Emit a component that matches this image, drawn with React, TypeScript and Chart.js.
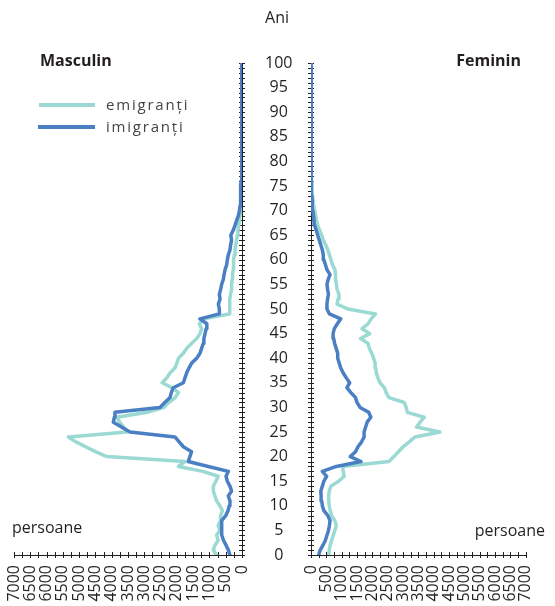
import React, { useEffect, useRef } from "react";
import { Chart, registerables } from "chart.js";

Chart.register(...registerables);

// Ages 0..100 (categories on the vertical axis)
const AGES: number[] = Array.from({ length: 101 }, (_, i) => i);

// Masculin (left panel)
const MALE_EMIGRANTI: number[] = [
  780, 880, 830, 730, 780, 680, 730, 660, 660, 600,
  680, 780, 830, 880, 880, 800, 730, 1200, 1950, 1750,
  4150, 4500, 4800, 5100, 5330, 3540, 3640, 3750, 3850, 2900,
  2400, 2250, 2050, 1950, 2150, 2450, 2310, 2210, 2060, 2000,
  1950, 1800, 1700, 1550, 1390, 1290, 1240, 1310, 1170, 390,
  370, 390, 370, 350, 320, 320, 300, 290, 270, 270,
  250, 235, 215, 195, 165, 145, 125, 100, 80, 60,
  50, 40, 35, 30, 25, 22, 18, 15, 12, 10,
  8, 7, 6, 5, 5, 4, 4, 3, 3, 2,
  2, 2, 1, 1, 1, 1, 1, 0, 0, 0, 0,
];
const MALE_IMIGRANTI: number[] = [
  370, 420, 490, 570, 620, 620, 630, 620, 500, 430,
  390, 370, 420, 320, 370, 450, 490, 420, 1035, 1650,
  1600, 1550, 1800, 1930, 2060, 3440, 3700, 3950, 3920, 3900,
  2520, 2370, 2210, 2170, 2110, 1800, 1750, 1700, 1630, 1545,
  1390, 1290, 1240, 1190, 1170, 1135, 1100, 1080, 1290, 700,
  695, 726, 675, 695, 655, 625, 575, 550, 520, 470,
  450, 420, 370, 350, 320, 345, 270, 215, 165, 110,
  80, 60, 50, 45, 40, 35, 30, 25, 22, 20,
  18, 15, 13, 12, 10, 9, 8, 7, 6, 5,
  5, 4, 4, 3, 3, 2, 2, 2, 1, 1, 1,
];

// Feminin (right panel)
const FEMALE_EMIGRANTI: number[] = [
  575, 595, 625, 675, 725, 775, 825, 775, 675, 625,
  595, 575, 575, 595, 650, 900, 1080, 1050, 1030, 2540,
  2700, 2850, 3000, 3200, 3390, 4200, 3440, 3560, 3690, 3140,
  3100, 3040, 2540, 2450, 2390, 2250, 2180, 2130, 2110, 2090,
  2040, 1980, 1900, 1860, 1615, 1914, 1665, 1860, 1960, 2100,
  1200, 850, 880, 910, 850, 830, 800, 800, 780, 700,
  650, 600, 550, 480, 400, 350, 280, 220, 180, 150,
  120, 90, 70, 55, 45, 38, 32, 26, 22, 18,
  15, 12, 10, 8, 7, 6, 5, 4, 4, 3,
  3, 2, 2, 2, 1, 1, 1, 1, 0, 0, 0,
];
const FEMALE_IMIGRANTI: number[] = [
  250, 300, 390, 470, 520, 570, 600, 620, 550, 420,
  370, 350, 330, 320, 370, 420, 510, 370, 825, 1630,
  1280, 1450, 1530, 1650, 1730, 1730, 1780, 1830, 1950, 1880,
  1600, 1500, 1450, 1300, 1170, 1260, 1150, 1050, 970, 920,
  870, 870, 820, 770, 740, 720, 760, 860, 970, 600,
  520, 520, 540, 570, 540, 520, 560, 620, 520, 470,
  420, 400, 370, 320, 270, 220, 170, 120, 100, 80,
  60, 45, 35, 30, 25, 20, 17, 14, 12, 10,
  9, 8, 7, 6, 5, 5, 4, 4, 3, 3,
  2, 2, 2, 1, 1, 1, 1, 1, 0, 0, 0,
];

const X_MAX = 7000;
const X_STEP = 500;
const AGE_LABEL_STEP = 5;

const LABEL_EMIG = "emigranți";
const LABEL_IMIG = "imigranți";

const COLOR_EMIG = "#9bd9d3";
const COLOR_IMIG = "#4a7fc4";
const INK = "#231f20";
const FONT = "'Open Sans', 'Noto Sans', sans-serif";

const W = 555;
const H = 606;

const tickCross = {
  id: "tickCross",
  beforeDatasetsDraw(chart: any, _args: any, opts: any) {
    const { ctx, chartArea } = chart;
    const xs = chart.scales.x;
    const ys = chart.scales.y;
    const axisX = opts.side === "left" ? chartArea.right : chartArea.left;
    const bottom = chartArea.bottom;
    ctx.save();
    ctx.strokeStyle = INK;
    ctx.lineWidth = 1;
    ctx.beginPath();
    for (const a of AGES) {
      const py = Math.round(ys.getPixelForValue(a)) + 0.5;
      ctx.moveTo(axisX - 3, py);
      ctx.lineTo(axisX + 3, py);
    }
    for (let v = 0; v <= X_MAX; v += X_STEP / 2) {
      const px = Math.round(xs.getPixelForValue(v)) + 0.5;
      ctx.moveTo(px, bottom - 3);
      ctx.lineTo(px, bottom + 3);
    }
    ctx.stroke();
    ctx.restore();
  },
};

function makeDatasets(emig: number[], imig: number[]) {
  return [
    {
      label: LABEL_EMIG,
      data: AGES.map((a, i) => ({ x: emig[i], y: a })),
      borderColor: COLOR_EMIG,
      backgroundColor: COLOR_EMIG,
      borderWidth: 3.5,
      pointRadius: 0,
      tension: 0,
      borderJoinStyle: "round" as const,
      borderCapStyle: "round" as const,
      order: 2,
    },
    {
      label: LABEL_IMIG,
      data: AGES.map((a, i) => ({ x: imig[i], y: a })),
      borderColor: COLOR_IMIG,
      backgroundColor: COLOR_IMIG,
      borderWidth: 3.5,
      pointRadius: 0,
      tension: 0,
      borderJoinStyle: "round" as const,
      borderCapStyle: "round" as const,
      order: 1,
    },
  ];
}

function xAxis(reverse: boolean) {
  return {
    type: "linear" as const,
    min: 0,
    max: X_MAX,
    reverse,
    grid: { display: false, drawTicks: false },
    border: { display: true, color: INK, width: 1 },
    ticks: {
      stepSize: X_STEP,
      autoSkip: false,
      minRotation: 90,
      maxRotation: 90,
      padding: 10,
      color: INK,
      font: { family: FONT, size: 16 },
      callback: (v: any) => String(v),
    },
    afterFit: (s: any) => {
      s.height = 51;
    },
  };
}

export default function App() {
  const leftRef = useRef<HTMLCanvasElement | null>(null);
  const rightRef = useRef<HTMLCanvasElement | null>(null);

  useEffect(() => {
    Chart.defaults.font.family = FONT;
    const left = new Chart(leftRef.current as HTMLCanvasElement, {
      type: "line",
      data: { datasets: makeDatasets(MALE_EMIGRANTI, MALE_IMIGRANTI) as any },
      options: {
        animation: false,
        responsive: false,
        indexAxis: "y",
        layout: { padding: { left: 14, top: 63, right: W - 242 - 60, bottom: 0 } },
        plugins: { legend: { display: false }, tooltip: { enabled: false }, tickCross: { side: "left" } } as any,
        scales: {
          x: xAxis(true),
          y: {
            type: "linear",
            position: "right",
            min: 0,
            max: 100,
            grid: { display: false, drawTicks: false },
            border: { display: true, color: INK, width: 1 },
            ticks: {
              stepSize: 1,
              maxTicksLimit: 101,
              autoSkip: false,
              crossAlign: "center",
              padding: 23,
              color: INK,
              font: { family: FONT, size: 16 },
              callback: (v: any) => (Number(v) % AGE_LABEL_STEP === 0 ? String(v) : ""),
            },
            afterFit: (s: any) => {
              s.width = 60;
            },
          } as any,
        },
      },
      plugins: [tickCross],
    });

    const right = new Chart(rightRef.current as HTMLCanvasElement, {
      type: "line",
      data: { datasets: makeDatasets(FEMALE_EMIGRANTI, FEMALE_IMIGRANTI) as any },
      options: {
        animation: false,
        responsive: false,
        indexAxis: "y",
        layout: { padding: { left: 311, top: 63, right: 10, bottom: 0 } },
        plugins: { legend: { display: false }, tooltip: { enabled: false }, tickCross: { side: "right" } } as any,
        scales: {
          x: xAxis(false),
          y: {
            type: "linear",
            position: "left",
            min: 0,
            max: 100,
            grid: { display: false, drawTicks: false },
            border: { display: true, color: INK, width: 1 },
            ticks: { display: false, stepSize: 1, maxTicksLimit: 101 },
            afterFit: (s: any) => {
              s.width = 0;
            },
          } as any,
        },
      },
      plugins: [tickCross],
    });

    return () => {
      left.destroy();
      right.destroy();
    };
  }, []);

  const txt: React.CSSProperties = {
    position: "absolute",
    fontFamily: FONT,
    fontSize: 16,
    lineHeight: "20px",
    color: INK,
    whiteSpace: "nowrap",
  };
  const legendTxt: React.CSSProperties = {
    ...txt,
    fontSize: 15,
    letterSpacing: "1.8px",
    color: "#444",
  };

  return (
    <div style={{ position: "absolute", left: 0, top: 0, width: W, height: H, background: "#fff" }}>
      <canvas ref={leftRef} width={W} height={H} style={{ position: "absolute", left: 0, top: 0, width: W, height: H }} />
      <canvas ref={rightRef} width={W} height={H} style={{ position: "absolute", left: 0, top: 0, width: W, height: H }} />
      <div style={{ ...txt, left: 227, top: 7, width: 100, textAlign: "center" }}>Ani</div>
      <div style={{ ...txt, left: 40, top: 50, fontWeight: 700 }}>Masculin</div>
      <div style={{ ...txt, left: 421, top: 50, width: 100, textAlign: "right", fontWeight: 700 }}>Feminin</div>
      <div style={{ position: "absolute", left: 39, top: 103, width: 56, height: 4, background: COLOR_EMIG }} />
      <div style={{ position: "absolute", left: 38, top: 125, width: 57, height: 4, background: COLOR_IMIG }} />
      <div style={{ ...legendTxt, left: 106, top: 94 }}>{LABEL_EMIG}</div>
      <div style={{ ...legendTxt, left: 106, top: 116 }}>{LABEL_IMIG}</div>
      <div style={{ ...txt, left: 12, top: 517 }}>persoane</div>
      <div style={{ ...txt, left: 445, top: 520, width: 100, textAlign: "right" }}>persoane</div>
    </div>
  );
}
